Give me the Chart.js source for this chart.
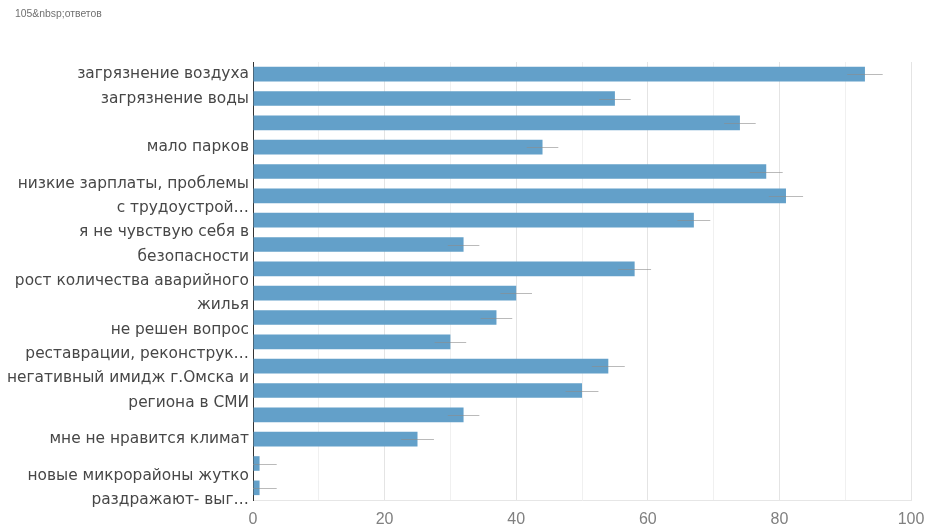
<!DOCTYPE html>
<html>
<head>
<meta charset="utf-8">
<script src="https://cdn.jsdelivr.net/npm/chart.js@4/dist/chart.umd.min.js"></script>
<style>
  body { margin: 0; background: #fff; }
  .wrap { position: relative; width: 929px; height: 530px; }
  .count {
    position: absolute; left: 15px; top: 8px;
    font: 10.4px "Liberation Sans", Arial, sans-serif; color: #707070;
  }
</style>
</head>
<body>
<div class="wrap">
  <div class="count">105&amp;nbsp;ответов</div>
  <canvas id="chart" width="929" height="530"></canvas>
</div>
<script>
// answers (empty label = Google skipped it)
const labels = [
  'загрязнение воздуха',
  'загрязнение воды',
  '',
  'мало парков',
  '',
  ['низкие зарплаты, проблемы', 'с трудоустрой…'],
  '',
  ['я не чувствую себя в', 'безопасности'],
  '',
  ['рост количества аварийного', 'жилья'],
  '',
  ['не решен вопрос', 'реставрации, реконструк…'],
  '',
  ['негативный имидж г.Омска и', 'региона в СМИ'],
  '',
  'мне не нравится климат',
  '',
  ['новые микрорайоны жутко', 'раздражают- выг…']
];
const counts = [93, 55, 74, 44, 78, 81, 67, 32, 58, 40, 37, 30, 54, 50, 32, 25, 1, 1];
const errors = [2.7, 2.4, 2.4, 2.4, 2.5, 2.6, 2.5, 2.4, 2.5, 2.4, 2.4, 2.4, 2.5, 2.5, 2.4, 2.5, 2.6, 2.6];

const errorBars = {
  id: 'errorBars',
  afterDatasetsDraw(chart) {
    const ctx = chart.ctx;
    const x = chart.scales.x;
    const meta = chart.getDatasetMeta(0);
    ctx.save();
    ctx.strokeStyle = 'rgba(140,140,140,0.6)';
    ctx.lineWidth = 1;
    meta.data.forEach((bar, i) => {
      const lo = x.getPixelForValue(Math.max(0, counts[i] - errors[i]));
      const hi = x.getPixelForValue(counts[i] + errors[i]);
      const y = Math.round(bar.y) + 0.5;
      ctx.beginPath();
      ctx.moveTo(lo, y);
      ctx.lineTo(hi, y);
      ctx.stroke();
    });
    ctx.restore();
  }
};

new Chart(document.getElementById('chart'), {
  type: 'bar',
  data: {
    labels: labels,
    datasets: [{
      data: counts,
      backgroundColor: '#63a0c9',
      borderWidth: 0,
      categoryPercentage: 1,
      barPercentage: 0.6
    }]
  },
  options: {
    indexAxis: 'y',
    responsive: false,
    animation: false,
    layout: { padding: { top: 62, right: 18, bottom: 0, left: 0 } },
    plugins: {
      legend: { display: false },
      tooltip: { enabled: false }
    },
    scales: {
      x: {
        min: 0,
        max: 100,
        ticks: {
          stepSize: 10,
          autoSkip: false,
          maxRotation: 0,
          padding: 10,
          color: '#808080',
          font: { family: 'Liberation Sans', size: 16 },
          callback: v => (v % 20 === 0 ? String(v) : '')
        },
        grid: {
          color: ctx => (ctx.tick && ctx.tick.value % 20 === 0 ? '#e4e4e4' : '#f0f0f0'),
          drawTicks: false
        },
        border: { display: true, color: '#e6e6e6' },
        afterFit: s => {
          s.height = 30;
          s.paddingLeft = 0;
          s.paddingRight = 0;
        }
      },
      y: {
        ticks: {
          autoSkip: false,
          color: '#474747',
          padding: 4,
          font: { family: 'DejaVu Sans', size: 15.4, lineHeight: 1.58 }
        },
        grid: { display: false, drawTicks: false },
        border: { display: true, color: '#333', width: 1 },
        afterFit: s => {
          s.width = 253;
          s.paddingTop = 0;
          s.paddingBottom = 0;
        }
      }
    }
  },
  plugins: [errorBars]
});
</script>
</body>
</html>
